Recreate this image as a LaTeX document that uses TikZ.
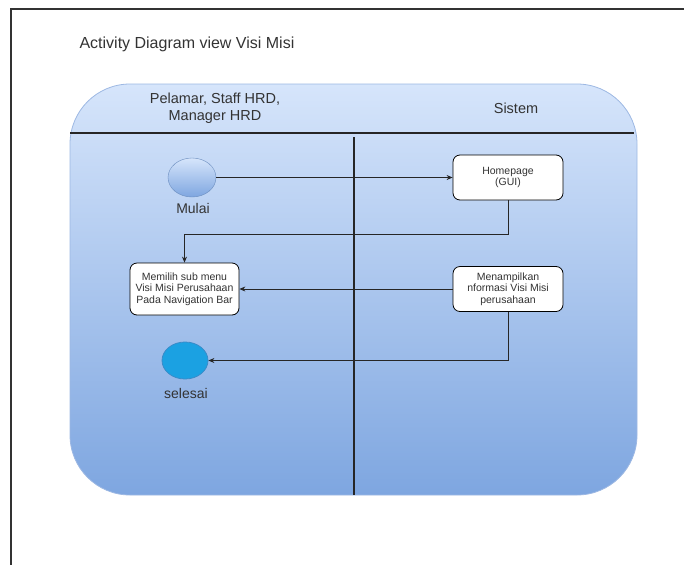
\documentclass[tikz,border=0pt]{standalone}
\usepackage{fontspec}
\setmainfont{Liberation Sans}
\usepackage{xcolor}
\usetikzlibrary{arrows.meta,shapes.geometric}

\definecolor{laneTop}{HTML}{D6E5FB}
\definecolor{laneBottom}{HTML}{7EA6E0}
\definecolor{laneBorder}{HTML}{9DB8E3}
\definecolor{startBorder}{HTML}{6C8EBF}
\definecolor{endFill}{HTML}{1BA1E2}
\definecolor{endBorder}{HTML}{3A8BC8}
\definecolor{txtGray}{HTML}{333333}

\begin{document}
\begin{tikzpicture}[x=1pt, y=-1pt,
    actbox/.style={draw=black, fill=white, rounded corners=7pt, line width=0.8pt,
        align=center, text=txtGray, inner sep=1pt,
        font=\fontsize{10.5}{11.5}\selectfont},
    flow/.style={-{Stealth[length=6pt,width=5pt]}, line width=0.7pt, draw=black!85},
    lbl/.style={text=txtGray, font=\fontsize{14}{16}\selectfont},
    lanehead/.style={text=txtGray, align=center, font=\fontsize{14.5}{17}\selectfont}]
    \useasboundingbox (0,0) rectangle (684,565);

    % page frame
    \draw[txtGray, line width=1.2pt] (684,9) -- (11,9) -- (11,565);
    \node[anchor=west, text=txtGray, font=\fontsize{16}{18}\selectfont] (title) at (76,44) {Activity Diagram view Visi Misi};

    % swimlane
    \path[draw=laneBorder, line width=0.8pt, top color=laneTop, bottom color=laneBottom,
        rounded corners=60pt] (70,84) rectangle (637,495);
    \draw[black!85, line width=1.6pt] (70,133) -- (634,133);
    \draw[black!85, line width=1.6pt] (354,137) -- (354,495);

    \node[lanehead] (laneUser) at (215,108.5) {Pelamar, Staff HRD,\\Manager HRD};
    \node[lanehead] (laneSys) at (516,108) {Sistem};

    % activities
    \node[ellipse, draw=startBorder, top color=laneTop, bottom color=laneBottom,
        minimum width=48pt, minimum height=39pt, inner sep=0pt] (mulai) at (192,177.5) {};
    \node[lbl] (mulaiText) at (193,208) {Mulai};

    \node[actbox, minimum width=110pt, minimum height=45pt] (home) at (508,177.5) {Homepage\\(GUI)};
    \node[actbox, minimum width=109pt, minimum height=52pt] (pilih) at (184.5,289) {Memilih sub menu\\Visi Misi Perusahaan\\Pada Navigation Bar};
    \node[actbox, minimum width=110pt, minimum height=45pt] (tampil) at (508,289) {Menampilkan\\nformasi Visi Misi\\perusahaan};

    \node[ellipse, draw=endBorder, fill=endFill, line width=0.8pt,
        minimum width=46pt, minimum height=37pt, inner sep=0pt] (selesai) at (185,360.5) {};
    \node[lbl] (selesaiText) at (186,393) {selesai};

    % flows
    \draw[flow] (mulai) -- (home);
    \draw[flow] (home.south) -- ++(0,34) -| (pilih.north);
    \draw[flow] (tampil) -- (pilih);
    \draw[flow] (tampil.south) |- (selesai);
\end{tikzpicture}
\end{document}
